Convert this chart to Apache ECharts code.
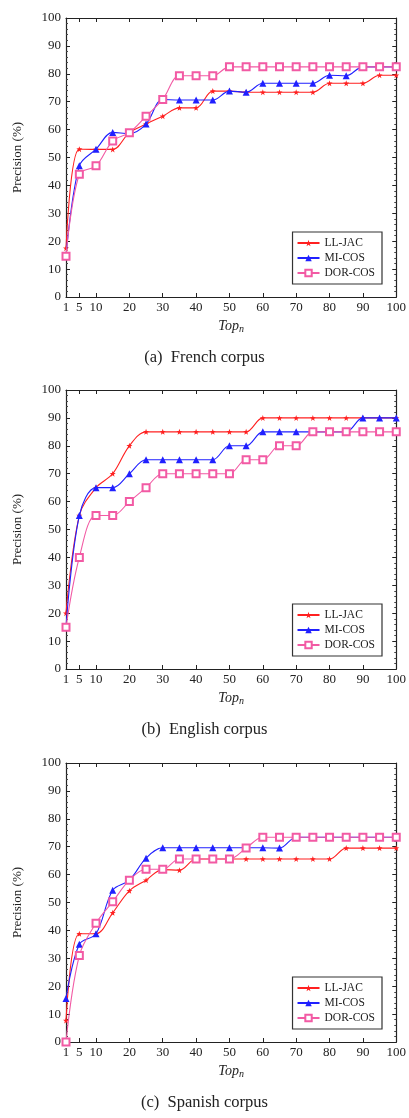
<!DOCTYPE html>
<html>
<head>
<meta charset="utf-8">
<script src="https://cdn.jsdelivr.net/npm/echarts@6/dist/echarts.min.js"></script>
<style>
  html, body { margin: 0; padding: 0; background: #fff; }
  #chart { width: 409px; height: 1118px; }
</style>
</head>
<body>
<div id="chart"></div>
<script>
// top-n values on the x axis
var topN = [1, 5, 10, 15, 20, 25, 30, 35, 40, 45, 50, 55, 60, 65, 70, 75, 80, 85, 90, 95, 100]
var xTickValues = [1, 5, 10, 20, 30, 40, 50, 60, 70, 80, 90, 100]
var seriesNames = ['LL-JAC', 'MI-COS', 'DOR-COS']
var captions = ['(a)  French corpus', '(b)  English corpus', '(c)  Spanish corpus']

// (a) French
var frLL = [17.5, 53, 52.9, 52.9, 58.9, 62, 64.8, 67.8, 67.8, 73.8, 73.8, 73.4, 73.4, 73.4, 73.4, 73.4, 76.6, 76.6, 76.6, 79.5, 79.5]
var frMI = [14.6, 47, 53, 59, 58.6, 62, 70.8, 70.6, 70.6, 70.6, 73.8, 73.4, 76.6, 76.6, 76.6, 76.6, 79.5, 79.3, 82.5, 82.5, 82.5]
var frDOR = [14.6, 44, 47, 55.9, 58.9, 64.8, 70.8, 79.3, 79.3, 79.3, 82.5, 82.5, 82.5, 82.5, 82.5, 82.5, 82.5, 82.5, 82.5, 82.5, 82.5]
// (b) English
var enLL = [20, 55, 65, 70, 80, 85, 85, 85, 85, 85, 85, 85, 90, 90, 90, 90, 90, 90, 90, 90, 90]
var enMI = [15, 55, 65, 65, 70, 75, 75, 75, 75, 75, 80, 80, 85, 85, 85, 85, 85, 85, 90, 90, 90]
var enDOR = [15, 40, 55, 55, 60, 65, 70, 70, 70, 70, 70, 75, 75, 80, 80, 85, 85, 85, 85, 85, 85]
// (c) Spanish
var esLL = [7.7, 38.8, 38.8, 46.3, 54.2, 58, 61.8, 61.6, 65.6, 65.6, 65.6, 65.6, 65.6, 65.6, 65.6, 65.6, 65.6, 69.5, 69.5, 69.5, 69.5]
var esMI = [15.6, 35, 38.8, 54.4, 58, 65.9, 69.6, 69.6, 69.6, 69.6, 69.6, 69.6, 69.6, 69.5, 73.4, 73.4, 73.4, 73.4, 73.4, 73.4, 73.4]
var esDOR = [0, 31, 42.6, 50.3, 58, 61.9, 61.9, 65.6, 65.6, 65.6, 65.6, 69.5, 73.4, 73.4, 73.4, 73.4, 73.4, 73.4, 73.4, 73.4, 73.4]

var corpora = [
  [frLL, frMI, frDOR],
  [enLL, enMI, enDOR],
  [esLL, esMI, esDOR]
]

var colors = ['#ff2020', '#2020ff', '#f25aa4']
var star = 'path://M0,-10 L2.35,-3.24 L9.51,-3.09 L3.8,1.24 L5.88,8.09 L0,4 L-5.88,8.09 L-3.8,1.24 L-9.51,-3.09 L-2.35,-3.24 Z'
var symbols = [star, 'triangle', 'emptyRect']
var symbolSizes = [6, 7, 7]

var gridTops = [18, 390, 763]
var plotH = 279
var serif = 'Liberation Serif'

var chart = echarts.init(document.getElementById('chart'), null, { renderer: 'canvas' })

var grids = [], xAxes = [], yAxes = [], series = [], legends = [], graphics = []

gridTops.forEach(function(top, g) {
  grids.push({ left: 66, top: top, width: 333, height: plotH })

  // bottom x axis
  xAxes.push({
    type: 'value', gridIndex: g, min: 1, max: 100, position: 'bottom',
    name: '{i|Top}{s|n}', nameLocation: 'middle', nameGap: 21,
    nameTextStyle: {
      rich: {
        i: { fontFamily: serif, fontStyle: 'italic', fontSize: 14, color: '#222' },
        s: { fontFamily: serif, fontStyle: 'italic', fontSize: 10, color: '#222', verticalAlign: 'bottom', padding: [6, 0, 0, 0] }
      }
    },
    axisLine: { onZero: false, lineStyle: { color: '#222', width: 1.2 } },
    axisTick: { inside: true, length: 4, customValues: xTickValues, lineStyle: { color: '#222' } },
    axisLabel: { customValues: xTickValues, margin: 4, fontFamily: serif, fontSize: 13, color: '#222' },
    splitLine: { show: false }
  })
  // top mirror axis
  xAxes.push({
    type: 'value', gridIndex: g, min: 1, max: 100, position: 'top',
    axisLine: { onZero: false, lineStyle: { color: '#222', width: 1.2 } },
    axisTick: { inside: true, length: 4, customValues: xTickValues, lineStyle: { color: '#222' } },
    axisLabel: { show: false },
    splitLine: { show: false }
  })
  // left y axis
  yAxes.push({
    type: 'value', gridIndex: g, min: 0, max: 100, interval: 10, position: 'left',
    name: 'Precision (%)', nameLocation: 'middle', nameGap: 42,
    nameTextStyle: { fontFamily: serif, fontSize: 13, color: '#222' },
    axisLine: { onZero: false, lineStyle: { color: '#222', width: 1.2 } },
    axisTick: { inside: true, length: 4, lineStyle: { color: '#222' } },
    minorTick: { show: true, splitNumber: 5, length: 2, lineStyle: { color: '#444' } },
    axisLabel: { margin: 5, fontFamily: serif, fontSize: 13, color: '#222' },
    splitLine: { show: false }
  })
  // right mirror axis
  yAxes.push({
    type: 'value', gridIndex: g, min: 0, max: 100, interval: 10, position: 'right',
    axisLine: { onZero: false, lineStyle: { color: '#222', width: 1.2 } },
    axisTick: { inside: true, length: 4, lineStyle: { color: '#222' } },
    minorTick: { show: true, splitNumber: 5, length: 2, lineStyle: { color: '#444' } },
    axisLabel: { show: false },
    splitLine: { show: false }
  })

  corpora[g].forEach(function(vals, s) {
    series.push({
      name: seriesNames[s],
      type: 'line',
      xAxisIndex: g * 2,
      yAxisIndex: g * 2,
      data: topN.map(function(x, i) { return [x, vals[i]] }),
      smooth: 0.35,
      symbol: symbols[s],
      symbolSize: symbolSizes[s],
      showAllSymbol: true,
      z: 2 + s,
      lineStyle: { color: colors[s], width: 1.1 },
      itemStyle: { color: colors[s], borderColor: colors[s], borderWidth: s === 2 ? 0.8 : 0 },
      emphasis: { disabled: true }
    })
  })

  legends.push({
    data: seriesNames,
    orient: 'vertical',
    right: 27,
    top: top + 214,
    itemWidth: 22,
    itemHeight: 8,
    itemGap: 3,
    padding: [5, 7, 5, 4],
    borderColor: '#333',
    borderWidth: 1.2,
    selectedMode: false,
    textStyle: { fontFamily: serif, fontSize: 11.5, color: '#222' }
  })

  graphics.push({
    type: 'text',
    left: 'center',
    top: top + 331,
    style: { text: captions[g], font: '16.5px "Liberation Serif"', fill: '#222' }
  })
})

chart.setOption({
  animation: false,
  grid: grids,
  xAxis: xAxes,
  yAxis: yAxes,
  legend: legends,
  series: series,
  graphic: graphics
})
</script>
</body>
</html>
